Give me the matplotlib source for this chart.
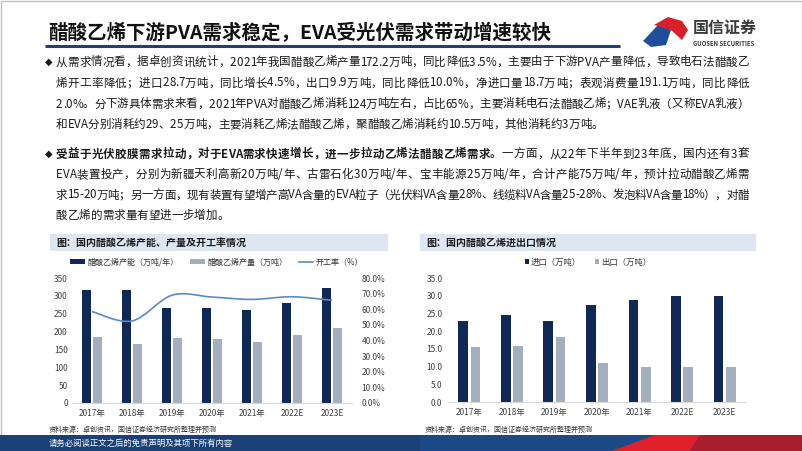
import matplotlib
matplotlib.use('Agg')
import matplotlib.pyplot as plt
from matplotlib.patches import Rectangle, Polygon, PathPatch
from matplotlib.path import Path
from matplotlib import font_manager as fm
from matplotlib.ft2font import FT2Font
import numpy as np

plt.rcParams['font.family'] = ['Noto Sans CJK SC', 'DejaVu Sans']
plt.rcParams['axes.unicode_minus'] = False

# ---------------- data ----------------
years = ['2017年', '2018年', '2019年', '2020年', '2021年', '2022E', '2023E']
capacity = [316, 316, 265, 265, 260, 281, 322]          # 醋酸乙烯产能（万吨/年）
production = [184, 166, 182, 180, 172, 191, 211]        # 醋酸乙烯产量（万吨）
op_rate = [58.5, 52.5, 69.0, 67.8, 66.3, 68.0, 65.7]    # 开工率（%）
imports = [23.0, 24.6, 22.9, 27.5, 28.7, 30.0, 30.0]    # 进口（万吨）
exports = [15.5, 15.8, 18.4, 11.1, 9.9, 10.0, 10.0]     # 出口（万吨）
left_ticks = [0, 50, 100, 150, 200, 250, 300, 350]
pct_ticks = [0, 10, 20, 30, 40, 50, 60, 70, 80]
trade_ticks = [0, 5, 10, 15, 20, 25, 30, 35]

title = '醋酸乙烯下游PVA需求稳定，EVA受光伏需求带动增速较快'
bullet1 = [
    '从需求情况看，据卓创资讯统计，2021年我国醋酸乙烯产量172.2万吨，同比降低3.5%，主要由于下游PVA产量降低，导致电石法醋酸乙',
    '烯开工率降低；进口28.7万吨，同比增长4.5%，出口9.9万吨，同比降低10.0%，净进口量18.7万吨；表观消费量191.1万吨，同比降低',
    '2.0%。分下游具体需求来看，2021年PVA对醋酸乙烯消耗124万吨左右，占比65%，主要消耗电石法醋酸乙烯；VAE乳液（又称EVA乳液）',
    '和EVA分别消耗约29、25万吨，主要消耗乙烯法醋酸乙烯，聚醋酸乙烯消耗约10.5万吨，其他消耗约3万吨。',
]
bullet2_bold = '受益于光伏胶膜需求拉动，对于EVA需求快速增长，进一步拉动乙烯法醋酸乙烯需求。'
bullet2_first = '一方面，从22年下半年到23年底，国内还有3套'
bullet2 = [
    'EVA装置投产，分别为新疆天利高新20万吨/年、古雷石化30万吨/年、宝丰能源25万吨/年，合计产能75万吨/年，预计拉动醋酸乙烯需',
    '求15-20万吨；另一方面，现有装置有望增产高VA含量的EVA粒子（光伏料VA含量28%、线缆料VA含量25-28%、发泡料VA含量18%），对醋',
    '酸乙烯的需求量有望进一步增加。',
]
chart1_title = '图：国内醋酸乙烯产能、产量及开工率情况'
chart2_title = '图：国内醋酸乙烯进出口情况'
source = '资料来源：卓创资讯，国信证券经济研究所整理并预测'
footer = '请务必阅读正文之后的免责声明及其项下所有内容'

# ---------------- styles ----------------
NAVY = '#0F2856'
GRAY = '#A3AFBD'
LINE = '#5A8AC8'
HDR = '#DDE6F1'
TXT = '#1A1A1A'

W, H = 802, 451
DPI = 100
fig = plt.figure(figsize=(W / DPI, H / DPI), dpi=DPI)
fig.patch.set_facecolor('white')
renderer = fig.canvas.get_renderer()

ov = fig.add_axes([0, 0, 1, 1], zorder=0)
ov.set_xlim(0, W)
ov.set_ylim(H, 0)
ov.axis('off')

# border
ov.add_patch(Rectangle((0.5, 0.5), W - 1, H - 1, fill=False, ec='#BFBFBF', lw=1))

# title
ov.text(48, 33, title, fontsize=14, fontweight='bold', color='#111111', va='center', ha='left')
ov.plot([45, 620], [45.5, 45.5], color='#1F3F78', lw=2.2, solid_capstyle='butt')

# logo
ov.add_patch(Polygon([(643, 41), (659, 24), (671, 30), (666, 45), (651, 47)], closed=True,
                     fc='#1F4E9A', ec='none'))
ov.add_patch(Polygon([(654, 25), (668, 17), (682, 21), (688, 30), (682, 40), (671, 30)], closed=True,
                     fc='#D7202A', ec='none'))
ov.text(693, 28, '国信证券', fontsize=11.5, color='#3A3A3A', va='center', ha='left', fontweight='bold')
ov.text(693, 44, 'GUOSEN SECURITIES', fontsize=4.3, color='#3A3A3A', va='center', ha='left', fontweight='bold')

# ---------------- justified body text ----------------
FS = 8.3
_fonts = {}


def _raw_advance(ch, weight):
    if weight not in _fonts:
        path = fm.findfont(fm.FontProperties(family='Noto Sans CJK SC', weight=weight))
        f = FT2Font(path, hinting_factor=1)
        f.set_size(FS, DPI)
        _fonts[weight] = f
    g = _fonts[weight].load_char(ord(ch))
    return g.horiAdvance / 64.0


def _measure(txt, weight):
    t = ov.text(0, 0, txt, fontsize=FS, fontweight=weight)
    w = t.get_window_extent(renderer=renderer).width
    t.remove()
    return w


# calibrate raw advances against the real renderer on a long sample
_scale = {}
for _wt in ('normal', 'bold'):
    sample = '国' * 40
    _scale[_wt] = _measure(sample, _wt) / sum(_raw_advance(c, _wt) for c in sample)


def draw_line(segments, x0, x1, y, justify=True):
    chars = []
    for txt, wt in segments:
        for ch in txt:
            chars.append((ch, wt))
    adv = [_raw_advance(c, w) * _scale[w] for c, w in chars]
    total = sum(adv)
    gap = (x1 - x0 - total) / (len(chars) - 1) if (justify and len(chars) > 1) else 0.0
    xpos = x0
    for (c, w), a in zip(chars, adv):
        ov.text(xpos, y, c, fontsize=FS, fontweight=w, color=TXT, va='center', ha='left')
        xpos += a + gap


X0, X1 = 56, 749
ys1 = [62, 83, 104, 124.5]
ov.text(45, ys1[0], '◆', fontsize=7, color=TXT, va='center', ha='left', family=['DejaVu Sans'])
for i, (y, line) in enumerate(zip(ys1, bullet1)):
    draw_line([(line, 'normal')], X0, X1, y, justify=(i < len(bullet1) - 1))

ys2 = [154, 174.5, 195, 215.5]
ov.text(45, ys2[0], '◆', fontsize=7, color=TXT, va='center', ha='left', family=['DejaVu Sans'])
draw_line([(bullet2_bold, 'bold'), (bullet2_first, 'normal')], X0, X1, ys2[0], justify=True)
for i, (y, line) in enumerate(zip(ys2[1:], bullet2)):
    draw_line([(line, 'normal')], X0, X1, y, justify=(i < len(bullet2) - 1))

# chart headers
ov.add_patch(Rectangle((50, 234), 338, 17, fc=HDR, ec='none'))
ov.text(56, 242.5, chart1_title, fontsize=7.2, fontweight='bold', color='#1A1A1A', va='center', ha='left')
ov.add_patch(Rectangle((420, 234), 336, 17, fc=HDR, ec='none'))
ov.text(426, 242.5, chart2_title, fontsize=7.2, fontweight='bold', color='#1A1A1A', va='center', ha='left')

# sources
ov.text(49, 430, source, fontsize=5, color='#333333', va='center', ha='left')
ov.text(425, 430, source, fontsize=5, color='#333333', va='center', ha='left')

# footer band
ov.add_patch(Rectangle((0, 435), W, 16, fc='#1D4A86', ec='none'))
ov.add_patch(Rectangle((0, 435), 420, 16, fc='#173B6E', ec='none', alpha=0.6))
ov.add_patch(Polygon([(612, 451), (655, 435), (700, 435), (690, 451)], closed=True, fc='#E0202A', ec='none'))
ov.add_patch(Polygon([(690, 451), (700, 435), (802, 435), (802, 451)], closed=True, fc='#A81E2A', ec='none'))
ov.text(49, 443.5, footer, fontsize=6, color='white', va='center', ha='left')

TICK_FS = 6
x = np.arange(len(years))
bw = 0.23
off = 0.145


def style_axes(a):
    for s in ['top', 'right', 'left']:
        a.spines[s].set_visible(False)
    a.spines['bottom'].set_color('#D9D9D9')
    a.spines['bottom'].set_linewidth(0.8)
    a.tick_params(axis='both', length=0, labelsize=TICK_FS, colors='#404040')
    a.set_facecolor('none')


# ---------------- left chart ----------------
ax1 = fig.add_axes([72 / W, (H - 403) / H, 280 / W, 125 / H], zorder=2)
ax1.bar(x - off, capacity, width=bw, color=NAVY, label='醋酸乙烯产能（万吨/年）', zorder=2)
ax1.bar(x + off, production, width=bw, color=GRAY, label='醋酸乙烯产量（万吨）', zorder=2)
ax1.set_xlim(-0.5, len(years) - 0.5)
ax1.set_ylim(0, 350)
ax1.set_yticks(left_ticks)
ax1.set_yticklabels([str(v) for v in left_ticks])
ax1.set_xticks(x)
ax1.set_xticklabels(years)
style_axes(ax1)
ax1.tick_params(axis='y', pad=3)
ax1.tick_params(axis='x', pad=4)

ax1b = ax1.twinx()
ax1b.set_ylim(0, 80)
ax1b.set_yticks(pct_ticks)
ax1b.set_yticklabels(['%.1f%%' % v for v in pct_ticks])
style_axes(ax1b)
ax1b.spines['bottom'].set_visible(False)
ax1b.tick_params(axis='y', pad=7)


def smooth_path(xs, ys):
    pts = np.column_stack([xs, ys]).astype(float)
    n = len(pts)
    verts = [pts[0]]
    codes = [Path.MOVETO]
    for i in range(n - 1):
        p0 = pts[i - 1] if i > 0 else pts[i]
        p1 = pts[i]
        p2 = pts[i + 1]
        p3 = pts[i + 2] if i + 2 < n else pts[i + 1]
        c1 = p1 + (p2 - p0) / 6.0
        c2 = p2 - (p3 - p1) / 6.0
        verts += [c1, c2, p2]
        codes += [Path.CURVE4] * 3
    return Path(verts, codes)


ax1b.add_patch(PathPatch(smooth_path(x, op_rate), fill=False, ec=LINE, lw=1.2, zorder=3))
line_handle, = ax1b.plot([], [], color=LINE, lw=1.2, label='开工率（%）')

h1, l1 = ax1.get_legend_handles_labels()
leg1 = fig.legend(h1 + [line_handle], l1 + ['开工率（%）'], loc='center',
                  bbox_to_anchor=(217 / W, 1 - 262 / H), ncol=3, frameon=False,
                  fontsize=5.8, handlelength=1.8, handleheight=0.6, columnspacing=1.4,
                  handletextpad=0.35, borderaxespad=0)
for t in leg1.get_texts():
    t.set_color('#333333')

# ---------------- right chart ----------------
ax2 = fig.add_axes([448 / W, (H - 402) / H, 298 / W, 124 / H], zorder=2)
ax2.bar(x - off, imports, width=bw, color=NAVY, label='进口（万吨）', zorder=2)
ax2.bar(x + off, exports, width=bw, color=GRAY, label='出口（万吨）', zorder=2)
ax2.set_xlim(-0.5, len(years) - 0.5)
ax2.set_ylim(0, 35)
ax2.set_yticks(trade_ticks)
ax2.set_yticklabels(['%.1f' % v for v in trade_ticks])
ax2.set_xticks(x)
ax2.set_xticklabels(years)
style_axes(ax2)
ax2.tick_params(axis='y', pad=4)
ax2.tick_params(axis='x', pad=4)

h2, l2 = ax2.get_legend_handles_labels()
leg2 = fig.legend(h2, l2, loc='center', bbox_to_anchor=(588 / W, 1 - 262 / H), ncol=2,
                  frameon=False, fontsize=6, handlelength=0.55, handleheight=0.55,
                  columnspacing=1.6, handletextpad=0.2, borderaxespad=0)
for t in leg2.get_texts():
    t.set_color('#333333')

fig.savefig('out.png', dpi=DPI)
